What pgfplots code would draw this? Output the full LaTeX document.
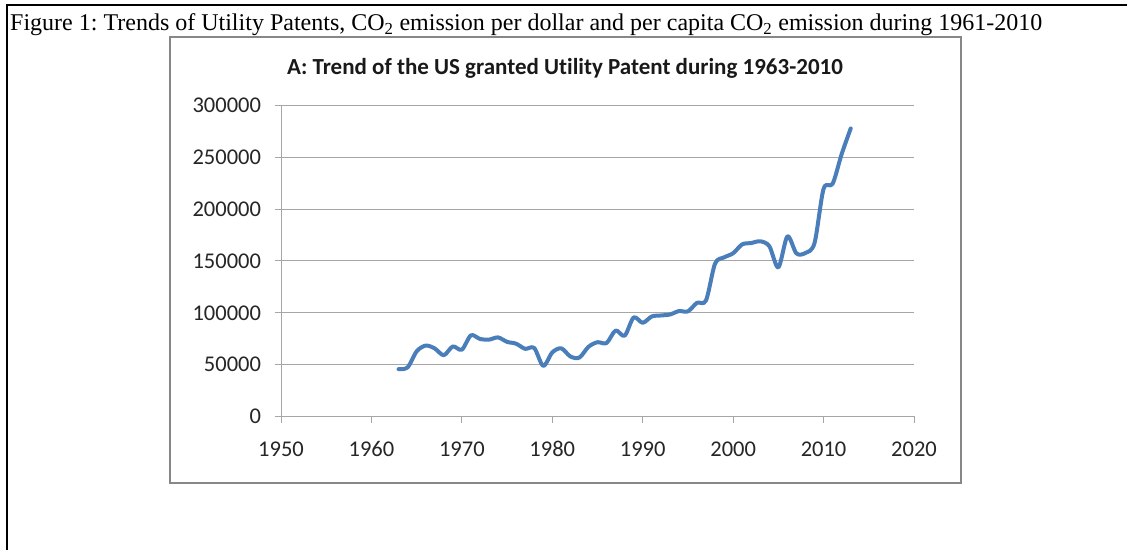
\documentclass[border=0pt]{standalone}
\usepackage{fontspec}
\setmainfont{Carlito}[Ligatures=NoCommon]
\newfontfamily\timesfont{Liberation Serif}
\usepackage{pgfplots}
\pgfplotsset{compat=1.18}
\definecolor{lineblue}{HTML}{4A7EBB}
\definecolor{gridgray}{HTML}{A6A6A6}
\definecolor{boxgray}{HTML}{878787}

\pgfplotstableread{
year patents
1963 45679
1964 47375
1965 62857
1966 68406
1967 65652
1968 59104
1969 67559
1970 64429
1971 78317
1972 74810
1973 74143
1974 76278
1975 72000
1976 70226
1977 65269
1978 66102
1979 48854
1980 61819
1981 65771
1982 57888
1983 56860
1984 67200
1985 71661
1986 70860
1987 82952
1988 77924
1989 95537
1990 90365
1991 96511
1992 97444
1993 98342
1994 101676
1995 101419
1996 109645
1997 111984
1998 147517
1999 153485
2000 157494
2001 166035
2002 167331
2003 169023
2004 164290
2005 143806
2006 173772
2007 157282
2008 157772
2009 167349
2010 219614
2011 224505
2012 253155
2013 277835
}\patentdata

\begin{document}
\frenchspacing
\begin{tikzpicture}[x=1bp,y=1bp]
\useasboundingbox (0,0) rectangle (1127,550);
\fill[white] (0,0) rectangle (1127,550);
% outer frame
\draw[black, line width=2bp] (7,0) -- (7,544.5) -- (1127,544.5);
% caption
\node[anchor=base west, inner sep=0, font=\timesfont\fontsize{24bp}{28bp}\selectfont] at (10,519)
  {Figure 1: Trends of Utility Patents, CO\textsubscript{2} emission per dollar and per capita CO\textsubscript{2} emission during 1961-2010};
% chart box
\draw[boxgray, line width=1.5bp] (170,513) rectangle (961,67);
% title
\node[font=\bfseries\fontsize{23bp}{27bp}\selectfont, text=black!90] at (565,482)
  {A: Trend of the US granted Utility Patent during 1963-2010};
\begin{axis}[
  at={(281bp,133.5bp)}, anchor=south west,
  scale only axis, width=633bp, height=311bp,
  xmin=1950, xmax=2020, ymin=0, ymax=300000,
  xtick={1950,1960,1970,1980,1990,2000,2010,2020},
  xticklabels={1950,1960,1970,1980,1990,2000,2010,2020},
  ytick={0,50000,100000,150000,200000,250000,300000},
  yticklabels={0,50000,100000,150000,200000,250000,300000},
  axis x line*=bottom, axis y line*=left,
  axis line style={gridgray, line width=1bp},
  ymajorgrids, major grid style={gridgray, line width=1bp},
  tick align=outside, major tick length=6.5bp,
  tick style={gridgray, line width=1bp},
  scaled y ticks=false,
  tick label style={font=\fontsize{22.5bp}{26bp}\selectfont, text=black!85},
  xticklabel style={yshift=-15bp},
  yticklabel style={xshift=-10bp},
]
\addplot[lineblue, line width=4bp, smooth, line join=round, line cap=round] table[x=year, y=patents] {\patentdata};
\end{axis}
\end{tikzpicture}
\end{document}
